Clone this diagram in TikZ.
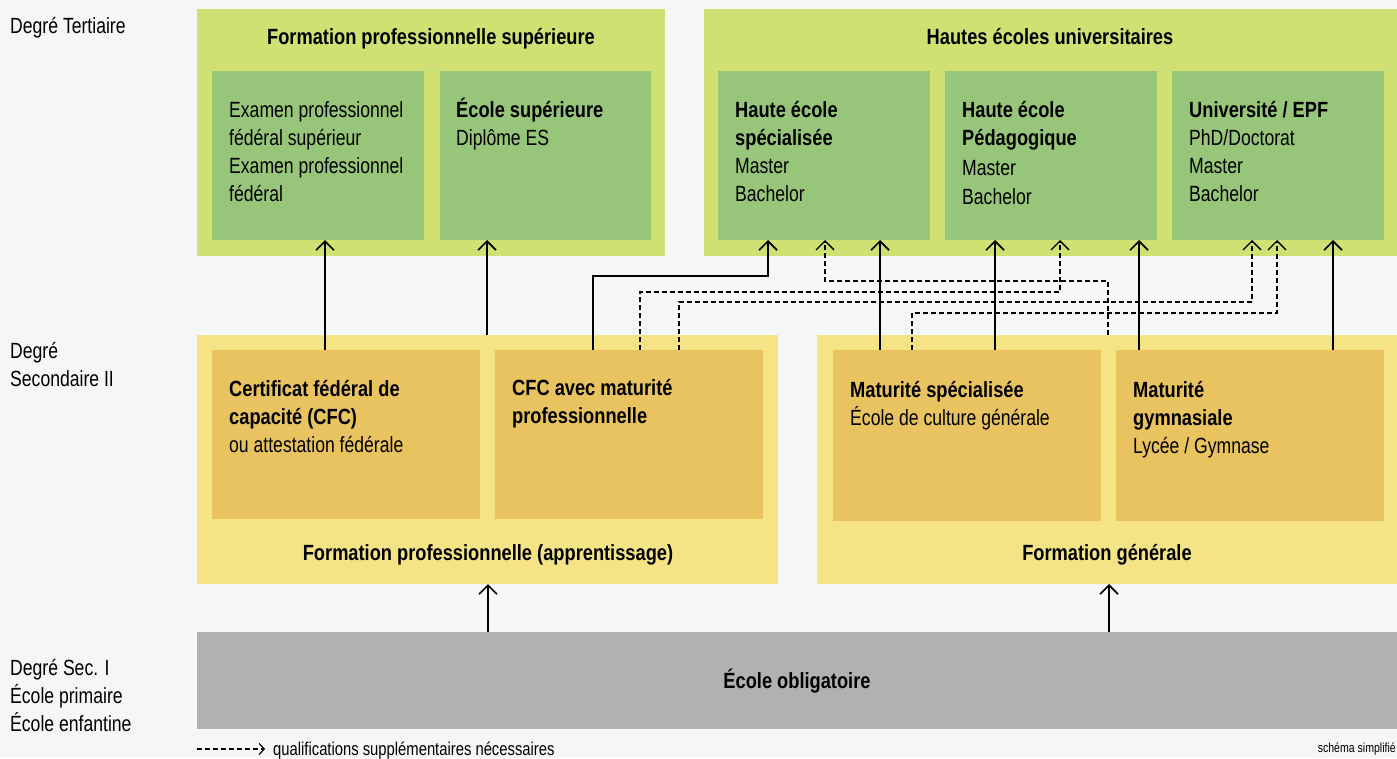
\documentclass[tikz,border=0pt]{standalone}
\usepackage{fontspec}
\setmainfont{Liberation Sans}[FakeStretch=0.80,BoldFeatures={FakeStretch=0.83}]
\usetikzlibrary{arrows.meta}
\definecolor{bgc}{HTML}{F5F6F8}
\definecolor{lgreen}{HTML}{D0E072}
\definecolor{dgreen}{HTML}{97C67A}
\definecolor{lyellow}{HTML}{F5E486}
\definecolor{orangeb}{HTML}{E9C35F}
\definecolor{grayb}{HTML}{B2B1AF}
\newcommand\fst{\rule{0pt}{22pt}}
\begin{document}
\begin{tikzpicture}[x=1pt,y=-1pt,
  box/.style={draw=none, inner sep=0pt, outer sep=0pt, anchor=north west},
  txt/.style={inner sep=0pt, anchor=north west, align=left, font=\fontsize{22}{28}\selectfont},
  ctxt/.style={inner sep=0pt, anchor=base, font=\fontsize{22}{28}\selectfont\bfseries},
  arr/.style={line width=2pt, -{Straight Barb[length=9pt,width=18pt,line width=1.6pt]}},
  darr/.style={line width=1.3pt, dash pattern=on 5pt off 3pt, -{Straight Barb[length=9pt,width=18pt,line width=1.3pt]}},
  larr/.style={line width=1.2pt, dash pattern=on 5pt off 3pt, -{Straight Barb[length=5pt,width=11pt,line width=1.2pt]}},
]
\fill[bgc] (0,0) rectangle (1397,758);
\useasboundingbox (0,0) rectangle (1397,758);

% boxes
\node[box, fill=lgreen, minimum width=468pt, minimum height=247pt] (fps) at (197,9) {};
\node[box, fill=lgreen, minimum width=693pt, minimum height=247pt] (hsu) at (704,9) {};
\node[box, fill=dgreen, minimum width=212pt, minimum height=169pt] (exam) at (212,71) {};
\node[box, fill=dgreen, minimum width=211pt, minimum height=169pt] (es) at (440,71) {};
\node[box, fill=dgreen, minimum width=212pt, minimum height=169pt] (hes) at (718,71) {};
\node[box, fill=dgreen, minimum width=212pt, minimum height=169pt] (hep) at (945,71) {};
\node[box, fill=dgreen, minimum width=212pt, minimum height=169pt] (uni) at (1172,71) {};
\node[box, fill=lyellow, minimum width=581pt, minimum height=249pt] (fpro) at (197,335) {};
\node[box, fill=lyellow, minimum width=580pt, minimum height=249pt] (fgen) at (817,335) {};
\node[box, fill=orangeb, minimum width=268pt, minimum height=169pt] (cfc) at (212,350) {};
\node[box, fill=orangeb, minimum width=268pt, minimum height=169pt] (cfcm) at (495,350) {};
\node[box, fill=orangeb, minimum width=268pt, minimum height=171pt] (mats) at (833,350) {};
\node[box, fill=orangeb, minimum width=268pt, minimum height=171pt] (matg) at (1116,350) {};
\node[box, fill=grayb, minimum width=1200pt, minimum height=97pt] (ecole) at (197,632) {};

% titles
\node[ctxt] (fpst) at (431,44) {Formation professionnelle supérieure};
\node[ctxt] (hsut) at (1050,44) {Hautes écoles universitaires};
\node[ctxt] (fprot) at (488,560) {Formation professionnelle (apprentissage)};
\node[ctxt] (fgent) at (1107,560) {Formation générale};
\node[ctxt] (ecolet) at (797,688) {École obligatoire};

% box texts
\node[txt] (examt) at (229,95) {\fst Examen professionnel\\fédéral supérieur\\Examen professionnel\\fédéral};
\node[txt] (est) at (456,95) {\fst\textbf{École supérieure}\\Diplôme ES};
\node[txt] (hest) at (735,95) {\fst\textbf{Haute école}\\\textbf{spécialisée}\\Master\\Bachelor};
\node[txt] (hept) at (962,95) {\fst\textbf{Haute école}\\\textbf{Pédagogique}\\[2pt]Master\\[1.5pt]Bachelor};
\node[txt] (unit) at (1189,95) {\fst\textbf{Université / EPF}\\PhD/Doctorat\\Master\\Bachelor};
\node[txt] (cfct) at (229,374) {\fst\textbf{Certificat fédéral de}\\\textbf{capacité (CFC)}\\ou attestation fédérale};
\node[txt] (cfcmt) at (512,373) {\fst\textbf{CFC avec maturité}\\\textbf{professionnelle}};
\node[txt] (matst) at (850,375) {\fst\textbf{Maturité spécialisée}\\École de culture générale};
\node[txt] (matgt) at (1133,375) {\fst\textbf{Maturité}\\\textbf{gymnasiale}\\Lycée / Gymnase};

% left labels
\node[txt] (lab1) at (10,11.5) {\fst Degré Tertiaire};
\node[txt] (lab2) at (10,336) {\fst Degré\\Secondaire II};
\node[txt] (lab3) at (10,653) {\fst Degré Sec. I\\École primaire\\École enfantine};

% levels
\coordinate (L1) at (0,276);
\coordinate (L2) at (0,281);
\coordinate (L3) at (0,292);
\coordinate (L4) at (0,302);
\coordinate (L5) at (0,313);

% end coordinates
\coordinate (e3) at ([xshift=50pt]hes.south west);
\coordinate (d1e) at ([xshift=115pt]hep.south west);
\coordinate (d2e) at ([xshift=80pt]uni.south west);
\coordinate (d3e) at ([xshift=107pt]hes.south west);
\coordinate (d4e) at ([xshift=105pt]uni.south west);

% dashed connectors
\draw[darr] ([xshift=145pt]cfcm.north west) |- (L3 -| d1e) -- (d1e);
\draw[darr] ([xshift=184pt]cfcm.north west) |- (L4 -| d2e) -- (d2e);
\draw[darr] ([xshift=291pt]fgen.north west) |- (L2 -| d3e) -- (d3e);
\draw[darr] ([xshift=79pt]mats.north west) |- (L5 -| d4e) -- (d4e);

% solid connectors
\draw[arr] ([xshift=113pt]cfc.north west) -- ([xshift=113pt]exam.south west);
\draw[arr] ([xshift=290pt]fpro.north west) -- ([xshift=47pt]es.south west);
\draw[arr] ([xshift=98pt]cfcm.north west) |- (L1 -| e3) -- (e3);
\draw[arr] ([xshift=47pt]mats.north west) -- ([xshift=162pt]hes.south west);
\draw[arr] ([xshift=162pt]mats.north west) -- ([xshift=50pt]hep.south west);
\draw[arr] ([xshift=23pt]matg.north west) -- ([xshift=194pt]hep.south west);
\draw[arr] ([xshift=217pt]matg.north west) -- ([xshift=161pt]uni.south west);
\draw[arr] ([xshift=291pt]ecole.north west) -- ([xshift=291pt]fpro.south west);
\draw[arr] ([xshift=912pt]ecole.north west) -- ([xshift=292pt]fgen.south west);

% legend
\node[inner sep=0pt, anchor=base west, font=\fontsize{18.5}{20}\selectfont] (lgt) at (273,755) {qualifications supplémentaires nécessaires};
\coordinate (lg1) at (197,749);
\coordinate (lg2) at (265,749);
\draw[larr] (lg1) -- (lg2);
\node[inner sep=0pt, anchor=base east, font=\fontsize{13.2}{14}\selectfont] (schema) at (1396,752) {schéma simplifié};
\end{tikzpicture}
\end{document}
